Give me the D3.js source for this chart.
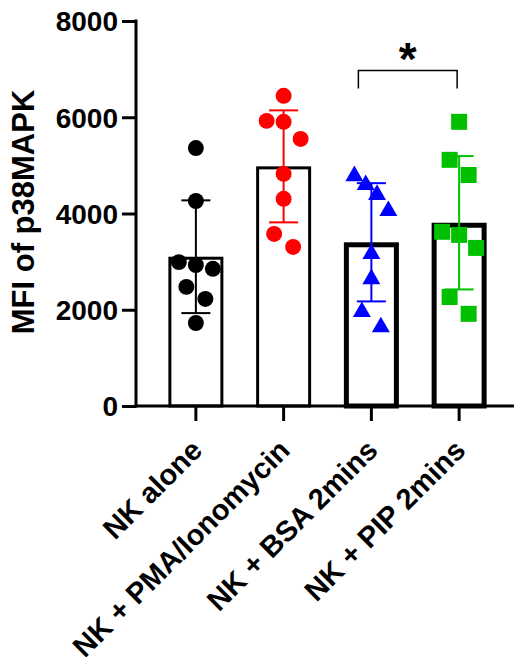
<!DOCTYPE html>
<html>
<head>
<meta charset="utf-8">
<script src="https://cdn.jsdelivr.net/npm/d3@7"></script>
<style>
  body { margin: 0; background: #fff; }
  text { font-family: "Liberation Sans", Arial, sans-serif; font-weight: bold; }
</style>
</head>
<body>
<div id="graph"></div>
<script>
// data
let categories = ["NK alone", "NK + PMA/Ionomycin", "NK + BSA 2mins", "NK + PIP 2mins"];
let nkAlone = [5360, 4260, 2990, 2930, 2850, 2475, 2225, 1725];
let nkPma = [6445, 5925, 5905, 5550, 4825, 4305, 3575, 3305];
let nkBsa = [4780, 4595, 4390, 4055, 3160, 2640, 1955, 1640];
let nkPip = [5905, 5115, 4800, 3620, 3555, 3285, 2265, 1915];
let yTicks = [0, 2000, 4000, 6000, 8000];

let groups = [nkAlone, nkPma, nkBsa, nkPip];
let colors = ["#000000", "#ff0000", "#0000ff", "#00c000"];
let shapes = [d3.symbolCircle, d3.symbolCircle, d3.symbolTriangle, d3.symbolSquare];
let symSize = [200, 200, 140, 256];
let barStroke = [3, 3, 5, 5];

let svg = d3.select("#graph").append("svg")
  .attr("width", 515)
  .attr("height", 657);

let yScale = d3.scaleLinear()
  .domain([0, 8000])
  .range([406, 21]);

let xScale = d3.scaleBand()
  .domain(categories)
  .range([152, 503]);

let barW = 55;

// spread close points sideways like a scatter-dot plot
function swarm(values) {
  let pts = values.map(v => ({ v: v, py: yScale(v), dx: 0 }))
    .sort((a, b) => a.py - b.py);
  let clusters = [];
  pts.forEach(p => {
    let last = clusters[clusters.length - 1];
    if (last && p.py - last[last.length - 1].py < 17.5) last.push(p);
    else clusters.push([p]);
  });
  clusters.forEach(c => {
    let n = c.length;
    let s = n > 1 ? Math.min(19, 34 / (n - 1)) : 0;
    c.forEach((p, i) => { p.dx = (i - (n - 1) / 2) * s; });
  });
  return pts;
}

// bars (border drawn inside the bar outline)
groups.forEach((vals, i) => {
  let cx = xScale(categories[i]) + xScale.bandwidth() / 2;
  let m = d3.mean(vals);
  let sd = d3.deviation(vals);
  let sw = barStroke[i];

  svg.append("rect")
    .attr("x", cx - barW / 2 + sw / 2)
    .attr("y", yScale(m) + sw / 2)
    .attr("width", barW - sw)
    .attr("height", yScale(0) - yScale(m) - sw / 2)
    .attr("fill", "#fff")
    .attr("stroke", "#000")
    .attr("stroke-width", sw);

  // SD error bar
  let eb = svg.append("g")
    .attr("stroke", colors[i])
    .attr("stroke-width", 2);
  eb.append("line")
    .attr("x1", cx).attr("x2", cx)
    .attr("y1", yScale(m + sd)).attr("y2", yScale(m - sd));
  [m + sd, m - sd].forEach(v => {
    eb.append("line")
      .attr("x1", cx - 14.5).attr("x2", cx + 14.5)
      .attr("y1", yScale(v)).attr("y2", yScale(v));
  });

  svg.selectAll(".pt" + i)
    .data(swarm(vals))
    .enter()
    .append("path")
    .attr("class", "pt" + i)
    .attr("d", d3.symbol().type(shapes[i]).size(symSize[i]))
    .attr("transform", d => "translate(" + (cx + d.dx) + "," + d.py + ")")
    .attr("fill", colors[i]);
});

// y axis
let yAxis = d3.axisLeft(yScale)
  .tickValues(yTicks)
  .tickSize(14)
  .tickPadding(4)
  .tickFormat(d3.format("d"));

let gy = svg.append("g")
  .attr("transform", "translate(136,0)")
  .call(yAxis);
gy.select(".domain").attr("stroke-width", 3).attr("d", "M0,19.5V407.5");
gy.selectAll(".tick line").attr("stroke-width", 3);
gy.selectAll(".tick text")
  .attr("font-size", 28)
  .attr("fill", "#000")
  .attr("dy", "0.35em");

// x axis
let xAxis = d3.axisBottom(xScale).tickSize(15).tickFormat("");
let gx = svg.append("g")
  .attr("transform", "translate(0,406)")
  .call(xAxis);
gx.select(".domain").attr("stroke-width", 3).attr("d", "M134.5,0H514");
gx.selectAll(".tick line").attr("stroke-width", 3);

categories.forEach(c => {
  let cx = xScale(c) + xScale.bandwidth() / 2;
  svg.append("text")
    .attr("transform", "translate(" + (cx + 8) + ",452) rotate(-45)")
    .attr("text-anchor", "end")
    .attr("font-size", 29)
    .text(c);
});

// y title
svg.append("text")
  .attr("transform", "translate(34,212) rotate(-90)")
  .attr("text-anchor", "middle")
  .attr("font-size", 31)
  .text("MFI of p38MAPK");

// significance bracket BSA vs PIP
let bx1 = xScale(categories[2]) + xScale.bandwidth() / 2 - 13;
let bx2 = xScale(categories[3]) + xScale.bandwidth() / 2 - 2;
let by = yScale(6970);
svg.append("path")
  .attr("d", "M" + bx1 + "," + (by + 18) + "V" + by + "H" + bx2 + "V" + (by + 18))
  .attr("fill", "none")
  .attr("stroke", "#000")
  .attr("stroke-width", 1.5);
svg.append("text")
  .attr("x", (bx1 + bx2) / 2)
  .attr("y", by + 4)
  .attr("text-anchor", "middle")
  .attr("font-size", 46)
  .text("*");
</script>
</body>
</html>
